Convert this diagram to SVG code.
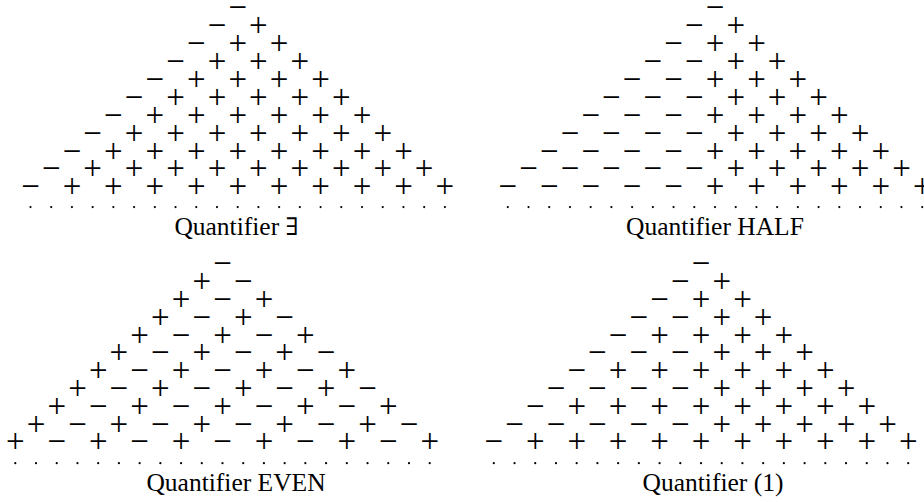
<svg xmlns="http://www.w3.org/2000/svg" xmlns:xlink="http://www.w3.org/1999/xlink" width="924" height="502" viewBox="0 0 924 502">
<style>
.s{font-family:"Liberation Serif","Times New Roman",serif;font-size:33px;text-anchor:middle;fill:#000}
.lab{font-family:"Liberation Serif","Times New Roman",serif;font-size:25.5px;text-anchor:middle;fill:#000}
.sym{font-family:"DejaVu Serif","DejaVu Sans",serif;font-size:24px}
</style>
<defs>
<g id="dots" fill="#000">
<circle cx="-207.2" cy="0" r="1.1"/><circle cx="-186.48" cy="0" r="1.1"/><circle cx="-165.76" cy="0" r="1.1"/><circle cx="-145.04" cy="0" r="1.1"/><circle cx="-124.32" cy="0" r="1.1"/><circle cx="-103.6" cy="0" r="1.1"/><circle cx="-82.88" cy="0" r="1.1"/><circle cx="-62.16" cy="0" r="1.1"/><circle cx="-41.44" cy="0" r="1.1"/><circle cx="-20.72" cy="0" r="1.1"/><circle cx="0" cy="0" r="1.1"/><circle cx="20.72" cy="0" r="1.1"/><circle cx="41.44" cy="0" r="1.1"/><circle cx="62.16" cy="0" r="1.1"/><circle cx="82.88" cy="0" r="1.1"/><circle cx="103.6" cy="0" r="1.1"/><circle cx="124.32" cy="0" r="1.1"/><circle cx="145.04" cy="0" r="1.1"/><circle cx="165.76" cy="0" r="1.1"/><circle cx="186.48" cy="0" r="1.1"/><circle cx="207.2" cy="0" r="1.1"/>
</g>
</defs>
<g id="connectors"/>
<g id="panel-exists" transform="translate(237.7,18.35)">
<text class="s" y="0" x="0">−</text>
<text class="s" y="17.9" x="-20.72 20.72">−+</text>
<text class="s" y="35.8" x="-41.44 0 41.44">−++</text>
<text class="s" y="53.7" x="-62.16 -20.72 20.72 62.16">−+++</text>
<text class="s" y="71.6" x="-82.88 -41.44 0 41.44 82.88">−++++</text>
<text class="s" y="89.5" x="-103.6 -62.16 -20.72 20.72 62.16 103.6">−+++++</text>
<text class="s" y="107.4" x="-124.32 -82.88 -41.44 0 41.44 82.88 124.32">−++++++</text>
<text class="s" y="125.3" x="-145.04 -103.6 -62.16 -20.72 20.72 62.16 103.6 145.04">−+++++++</text>
<text class="s" y="143.2" x="-165.76 -124.32 -82.88 -41.44 0 41.44 82.88 124.32 165.76">−++++++++</text>
<text class="s" y="161.1" x="-186.48 -145.04 -103.6 -62.16 -20.72 20.72 62.16 103.6 145.04 186.48">−+++++++++</text>
<text class="s" y="179" x="-207.2 -165.76 -124.32 -82.88 -41.44 0 41.44 82.88 124.32 165.76 207.2">−++++++++++</text>
<use xlink:href="#dots" href="#dots" y="188.7"/>
</g>
<g id="panel-half" transform="translate(715,18.35)">
<text class="s" y="0" x="0">−</text>
<text class="s" y="17.9" x="-20.72 20.72">−+</text>
<text class="s" y="35.8" x="-41.44 0 41.44">−++</text>
<text class="s" y="53.7" x="-62.16 -20.72 20.72 62.16">−−++</text>
<text class="s" y="71.6" x="-82.88 -41.44 0 41.44 82.88">−−+++</text>
<text class="s" y="89.5" x="-103.6 -62.16 -20.72 20.72 62.16 103.6">−−−+++</text>
<text class="s" y="107.4" x="-124.32 -82.88 -41.44 0 41.44 82.88 124.32">−−−++++</text>
<text class="s" y="125.3" x="-145.04 -103.6 -62.16 -20.72 20.72 62.16 103.6 145.04">−−−−++++</text>
<text class="s" y="143.2" x="-165.76 -124.32 -82.88 -41.44 0 41.44 82.88 124.32 165.76">−−−−+++++</text>
<text class="s" y="161.1" x="-186.48 -145.04 -103.6 -62.16 -20.72 20.72 62.16 103.6 145.04 186.48">−−−−−+++++</text>
<text class="s" y="179" x="-207.2 -165.76 -124.32 -82.88 -41.44 0 41.44 82.88 124.32 165.76 207.2">−−−−−++++++</text>
<use xlink:href="#dots" href="#dots" y="188.7"/>
</g>
<g id="panel-even" transform="translate(222.5,274.2)">
<text class="s" y="0" x="0">−</text>
<text class="s" y="17.83" x="-20.72 20.72">+−</text>
<text class="s" y="35.66" x="-41.44 0 41.44">+−+</text>
<text class="s" y="53.49" x="-62.16 -20.72 20.72 62.16">+−+−</text>
<text class="s" y="71.32" x="-82.88 -41.44 0 41.44 82.88">+−+−+</text>
<text class="s" y="89.15" x="-103.6 -62.16 -20.72 20.72 62.16 103.6">+−+−+−</text>
<text class="s" y="106.98" x="-124.32 -82.88 -41.44 0 41.44 82.88 124.32">+−+−+−+</text>
<text class="s" y="124.81" x="-145.04 -103.6 -62.16 -20.72 20.72 62.16 103.6 145.04">+−+−+−+−</text>
<text class="s" y="142.64" x="-165.76 -124.32 -82.88 -41.44 0 41.44 82.88 124.32 165.76">+−+−+−+−+</text>
<text class="s" y="160.47" x="-186.48 -145.04 -103.6 -62.16 -20.72 20.72 62.16 103.6 145.04 186.48">+−+−+−+−+−</text>
<text class="s" y="178.3" x="-207.2 -165.76 -124.32 -82.88 -41.44 0 41.44 82.88 124.32 165.76 207.2">+−+−+−+−+−+</text>
<use xlink:href="#dots" href="#dots" y="189"/>
</g>
<g id="panel-one" transform="translate(701,274.2)">
<text class="s" y="0" x="0">−</text>
<text class="s" y="17.83" x="-20.72 20.72">−+</text>
<text class="s" y="35.66" x="-41.44 0 41.44">−++</text>
<text class="s" y="53.49" x="-62.16 -20.72 20.72 62.16">−−++</text>
<text class="s" y="71.32" x="-82.88 -41.44 0 41.44 82.88">−++++</text>
<text class="s" y="89.15" x="-103.6 -62.16 -20.72 20.72 62.16 103.6">−−−+++</text>
<text class="s" y="106.98" x="-124.32 -82.88 -41.44 0 41.44 82.88 124.32">−++++++</text>
<text class="s" y="124.81" x="-145.04 -103.6 -62.16 -20.72 20.72 62.16 103.6 145.04">−−−−++++</text>
<text class="s" y="142.64" x="-165.76 -124.32 -82.88 -41.44 0 41.44 82.88 124.32 165.76">−++++++++</text>
<text class="s" y="160.47" x="-186.48 -145.04 -103.6 -62.16 -20.72 20.72 62.16 103.6 145.04 186.48">−−−−−+++++</text>
<text class="s" y="178.3" x="-207.2 -165.76 -124.32 -82.88 -41.44 0 41.44 82.88 124.32 165.76 207.2">−++++++++++</text>
<use xlink:href="#dots" href="#dots" y="189"/>
</g>
<g id="labels">
<text class="lab" x="236.5" y="235">Quantifier <tspan class="sym">∃</tspan></text>
<text class="lab" x="715" y="235">Quantifier HALF</text>
<text class="lab" x="236" y="490.5">Quantifier EVEN</text>
<text class="lab" x="713" y="490.5">Quantifier (1)</text>
</g>
</svg>
